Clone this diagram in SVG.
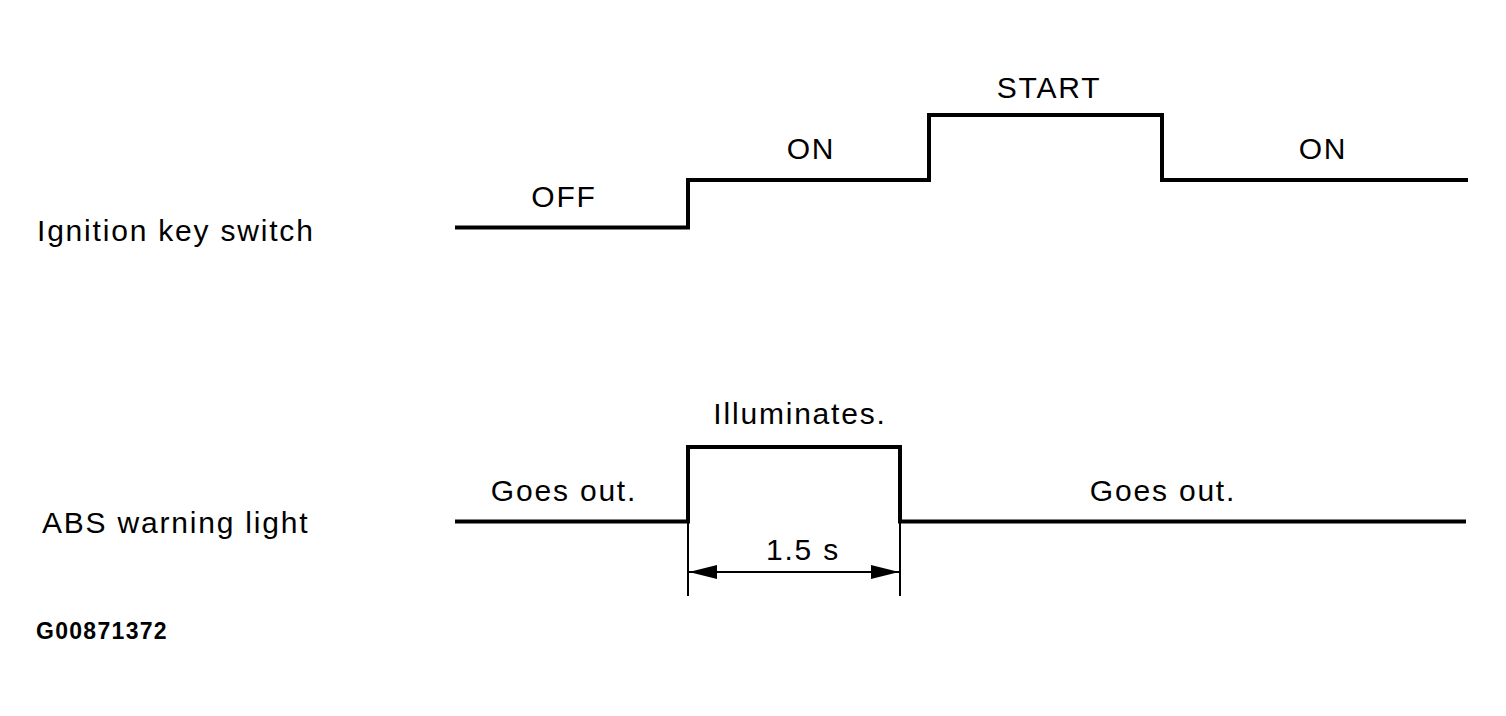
<svg xmlns="http://www.w3.org/2000/svg" width="1506" height="716" viewBox="0 0 1506 716">
<style>
.t{font-family:"Liberation Sans",Arial,sans-serif;font-size:30px;fill:#000;letter-spacing:1.8px}
.c{text-anchor:middle}
.w{fill:none;stroke:#000;stroke-width:4;stroke-linejoin:miter;stroke-linecap:butt}
.d{fill:none;stroke:#000;stroke-width:2}
.id{font-family:"Liberation Sans",Arial,sans-serif;font-size:23px;font-weight:bold;letter-spacing:1.3px;fill:#000}
</style>
<defs>
<marker id="ah" viewBox="0 0 28 14" refX="28" refY="7" markerWidth="28" markerHeight="14" markerUnits="userSpaceOnUse" orient="auto-start-reverse">
<path d="M0,0 L28,7 L0,14 Z" fill="#000"/>
</marker>
</defs>
<rect width="1506" height="716" fill="#fff"/>
<g id="ignition">
<text class="t" x="37" y="241">Ignition key switch</text>
<text class="t c" x="564" y="207">OFF</text>
<text class="t c" x="811" y="159">ON</text>
<text class="t c" x="1049" y="98">START</text>
<text class="t c" x="1323" y="159">ON</text>
</g>
<g id="abs">
<text class="t" x="42" y="533">ABS warning light</text>
<text class="t c" x="564" y="501">Goes out.</text>
<text class="t c" x="800" y="424">Illuminates.</text>
<text class="t c" x="1163" y="501">Goes out.</text>
<text class="t c" x="803" y="560">1.5 s</text>
</g>
<g id="connectors">
<path class="w" d="M455,227.5 H688 V180 H929 V115 H1162 V180 H1468"/>
<path class="w" d="M455,521.5 H688 V447 H900 V521.5 H1466"/>
<path class="d" d="M688,521 V596 M900,521 V596"/>
<path class="d" d="M689,572 H899" marker-start="url(#ah)" marker-end="url(#ah)"/>
</g>
<text class="id" x="36" y="639">G00871372</text>
</svg>
